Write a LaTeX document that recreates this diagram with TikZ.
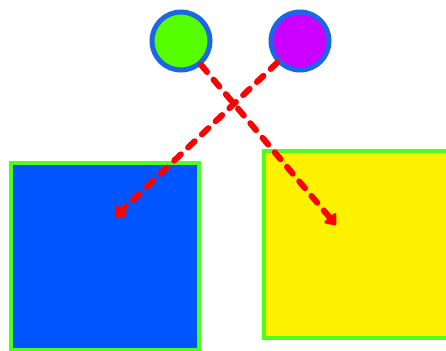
\documentclass[tikz,border=0pt]{standalone}
\usepackage{tikz}
\usetikzlibrary{arrows.meta, positioning}
\definecolor{limegreen}{HTML}{55FF00}
\definecolor{ringblue}{HTML}{1A66E6}
\definecolor{boxblue}{HTML}{0055FF}
\definecolor{violet}{HTML}{CC00FF}
\definecolor{boxgreen}{HTML}{4DFF1A}
\tikzstyle{ball} = [circle, minimum size=58pt, inner sep=0pt, draw=ringblue, line width=5pt]
\tikzstyle{box} = [rectangle, minimum width=188pt, minimum height=187pt, inner sep=0pt, draw=boxgreen, line width=4pt]
\tikzstyle{arrow} = [draw=red, line width=6pt, line cap=round, dash pattern=on 9pt off 10pt, -{Triangle[length=11pt, width=17pt, round]}]

\begin{document}
\begin{tikzpicture}[x=1pt, y=-1pt]
  \useasboundingbox (0,0) rectangle (446,350);
  \clip (0,0) rectangle (446,350);
  \node[ball, fill=limegreen] (g) at (181,41) {};
  \node[ball, fill=violet] (p) at (300,41) {};
  \node[box, fill=boxblue] (bsq) at (105,256) {};
  \node[box, fill=yellow] (ysq) at (358,244) {};
  \coordinate (yend) at (336,225);
  \coordinate (bend) at (115,217);

  \draw[arrow] (g) -- (yend);
  \draw[arrow] (p) -- (bend);
\end{tikzpicture}
\end{document}
